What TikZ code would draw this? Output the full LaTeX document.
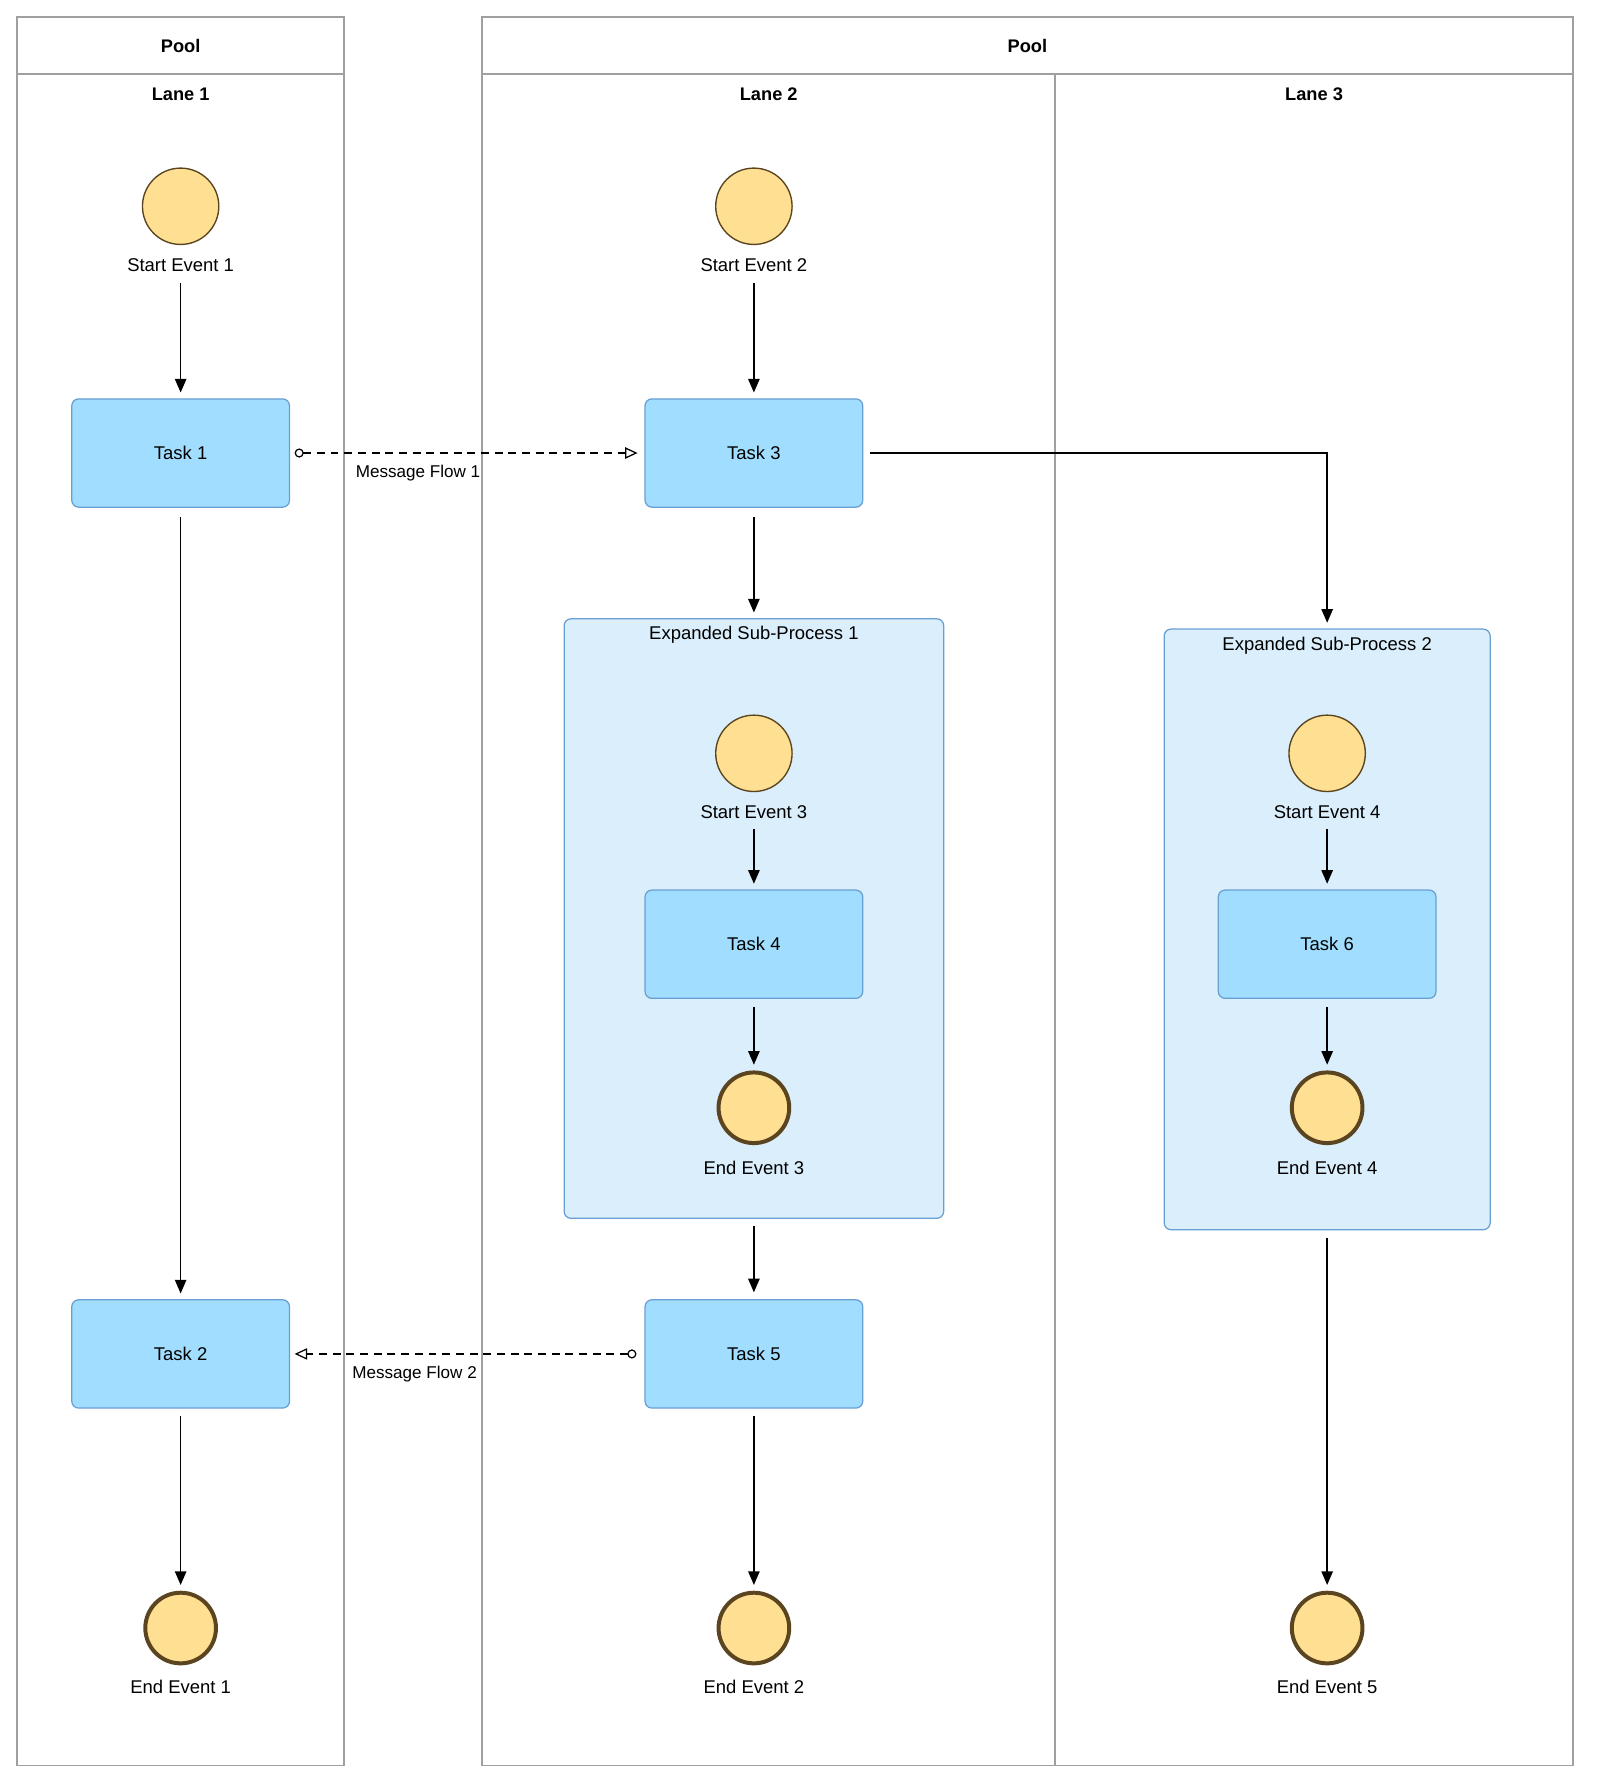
\documentclass[tikz,border=0pt]{standalone}
\usepackage{fontspec}
\setmainfont{Liberation Sans}
\usetikzlibrary{arrows.meta}
\definecolor{evfill}{HTML}{FFDF91}
\definecolor{evline}{HTML}{5A4520}
\definecolor{taskfill}{HTML}{A0DDFE}
\definecolor{taskline}{HTML}{6A9FD3}
\definecolor{subfill}{HTML}{DAEEFB}
\definecolor{poolline}{HTML}{A0A0A0}

\begin{document}
\begin{tikzpicture}[x=1pt,y=-1pt,
  font=\fontsize{16.2}{19}\selectfont,
  pool/.style={draw=poolline,line width=1.5pt},
  hdr/.style={font=\fontsize{16}{19}\selectfont\bfseries,inner sep=0pt},
  startev/.style={circle,draw=evline,fill=evfill,line width=1.2pt,minimum size=67pt,inner sep=0pt},
  endev/.style={circle,draw=evline,fill=evfill,line width=3.5pt,minimum size=62pt,inner sep=0pt},
  evlabel/.style={inner sep=0pt},
  task/.style={rectangle,rounded corners=6pt,draw=taskline,fill=taskfill,line width=1.1pt,minimum width=191pt,minimum height=95pt},
  subproc/.style={rectangle,rounded corners=6pt,draw=taskline,fill=subfill,line width=1.1pt},
  flow/.style={draw=black,line width=1.3pt,-{Triangle[length=12pt,width=10pt]}},
  msg/.style={draw=black,line width=1.1pt,dash pattern=on 7pt off 5pt,{Circle[open,length=8pt,width=8pt]}-{Triangle[open,length=11pt,width=10pt]}},
  msglabel/.style={font=\fontsize{15}{18}\selectfont,anchor=west,inner sep=0pt}
]
\useasboundingbox (0,0) rectangle (1410,1568);

% pools and lanes
\draw[pool] (15,15) rectangle (302,1549);
\draw[pool] (15,65) -- (302,65);
\draw[pool] (423,15) rectangle (1380,1549);
\draw[pool] (423,65) -- (1380,65);
\draw[pool] (926,65) -- (926,1549);
\node[hdr] (pool1t) at (158.5,40) {Pool};
\node[hdr] (pool2t) at (901.5,40) {Pool};
\node[hdr] (lane1t) at (158.5,83) {Lane 1};
\node[hdr] (lane2t) at (674.5,83) {Lane 2};
\node[hdr] (lane3t) at (1153,83) {Lane 3};

% expanded sub-processes
\node[subproc,minimum width=333pt,minimum height=526pt] (sp1) at (661.5,806) {};
\node[evlabel] (sp1l) at (661.5,557) {Expanded Sub-Process 1};
\node[subproc,minimum width=286pt,minimum height=527pt] (sp2) at (1164.5,815.5) {};
\node[evlabel] (sp2l) at (1164.5,567) {Expanded Sub-Process 2};

% lane 1
\node[startev] (se1) at (158.5,181) {};
\node[evlabel] (se1l) at (158.5,233) {Start Event 1};
\node[task] (t1) at (158.5,397.5) {Task 1};
\node[task] (t2) at (158.5,1188) {Task 2};
\node[endev] (ee1) at (158.5,1428.5) {};
\node[evlabel] (ee1l) at (158.5,1480) {End Event 1};

% lane 2
\node[startev] (se2) at (661.5,181) {};
\node[evlabel] (se2l) at (661.5,233) {Start Event 2};
\node[task] (t3) at (661.5,397.5) {Task 3};
\node[startev] (se3) at (661.5,661) {};
\node[evlabel] (se3l) at (661.5,713) {Start Event 3};
\node[task] (t4) at (661.5,828.5) {Task 4};
\node[endev] (ee3) at (661.5,972) {};
\node[evlabel] (ee3l) at (661.5,1025) {End Event 3};
\node[task] (t5) at (661.5,1188) {Task 5};
\node[endev] (ee2) at (661.5,1428.5) {};
\node[evlabel] (ee2l) at (661.5,1480) {End Event 2};

% lane 3
\node[startev] (se4) at (1164.5,661) {};
\node[evlabel] (se4l) at (1164.5,713) {Start Event 4};
\node[task] (t6) at (1164.5,828.5) {Task 6};
\node[endev] (ee4) at (1164.5,972) {};
\node[evlabel] (ee4l) at (1164.5,1025) {End Event 4};
\node[endev] (ee5) at (1164.5,1428.5) {};
\node[evlabel] (ee5l) at (1164.5,1480) {End Event 5};

% sequence flows
\draw[flow] ([yshift=-15pt]se1l.center) -- ([yshift=5pt]t1.north);
\draw[flow] ([yshift=-8pt]t1.south) -- ([yshift=5pt]t2.north);
\draw[flow] ([yshift=-6pt]t2.south) -- ([yshift=5pt]ee1.north);
\draw[flow] ([yshift=-15pt]se2l.center) -- ([yshift=5pt]t3.north);
\draw[flow] ([yshift=-8pt]t3.south) -- ([yshift=5pt]sp1.north);
\draw[flow] ([yshift=-14pt]se3l.center) -- ([yshift=5pt]t4.north);
\draw[flow] ([yshift=-7pt]t4.south) -- ([yshift=5pt]ee3.north);
\draw[flow] ([yshift=-6pt]sp1.south) -- ([yshift=6pt]t5.north);
\draw[flow] ([yshift=-6pt]t5.south) -- ([yshift=5pt]ee2.north);
\draw[flow] ([xshift=6pt]t3.east) -| ([yshift=5pt]sp2.north);
\draw[flow] ([yshift=-14pt]se4l.center) -- ([yshift=5pt]t6.north);
\draw[flow] ([yshift=-7pt]t6.south) -- ([yshift=5pt]ee4.north);
\draw[flow] ([yshift=-7pt]sp2.south) -- ([yshift=5pt]ee5.north);

% message flows
\draw[msg] ([xshift=4pt]t1.east) -- ([xshift=-6pt]t3.west);
\node[msglabel] (mf1) at (312,415) {Message Flow 1};
\draw[msg] ([xshift=-7pt]t5.west) -- ([xshift=4pt]t2.east);
\node[msglabel] (mf2) at (309,1206) {Message Flow 2};
\end{tikzpicture}
\end{document}
